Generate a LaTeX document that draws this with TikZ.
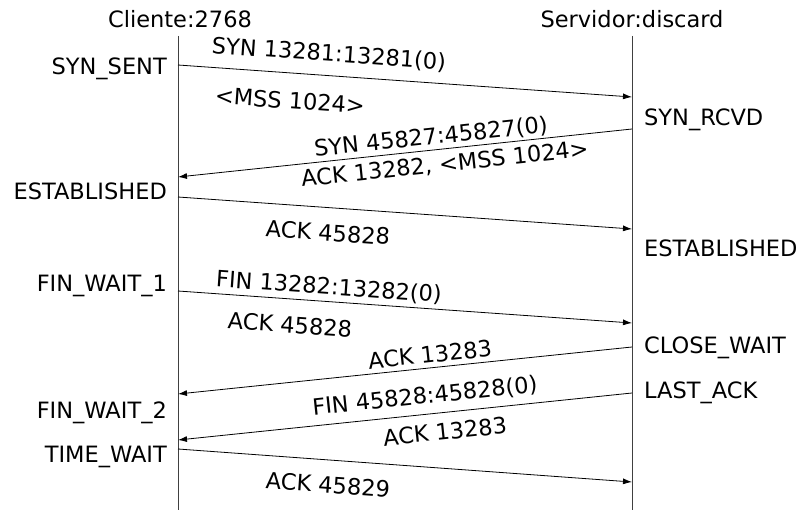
\documentclass[tikz,border=0pt]{standalone}
\usepackage{fontspec}
\setmainfont{DejaVu Sans}
\usetikzlibrary{arrows.meta}
\begin{document}
\begin{tikzpicture}[x=1pt,y=-1pt,
  lbl/.style={font=\fontsize{22.5}{24}\selectfont, inner sep=0pt, yshift=-2.5pt},
  lifeline/.style={draw=black!75, line width=0.9pt},
  msg/.style={draw=black, line width=0.8pt, -{Latex[length=9pt,width=6pt]}},
  stl/.style={lbl, anchor=east},
  str/.style={lbl, anchor=west}]
\useasboundingbox (0,0) rectangle (803,510);
% lifelines
\coordinate (ctop) at (178,36);
\coordinate (cbot) at (178,510);
\coordinate (stop) at (632,36);
\coordinate (sbot) at (632,510);
\draw[lifeline] (ctop) -- (cbot);
\draw[lifeline] (stop) -- (sbot);
\node[lbl] (cl) at (180,17) {Cliente:2768};
\node[lbl] (sv) at (632,17) {Servidor:discard};
% endpoints
\coordinate (c1) at (178,65);  \coordinate (s1) at (632,97);
\coordinate (s2) at (632,129); \coordinate (c2) at (178,177);
\coordinate (c3) at (178,197); \coordinate (s3) at (632,229);
\coordinate (c4) at (178,291); \coordinate (s4) at (632,323);
\coordinate (s5) at (632,347); \coordinate (c5) at (178,394);
\coordinate (s6) at (632,393); \coordinate (c6) at (178,440);
\coordinate (c7) at (178,449); \coordinate (s7) at (632,482);
\draw[msg] (c1) -- (s1);
\draw[msg] (s2) -- (c2);
\draw[msg] (c3) -- (s3);
\draw[msg] (c4) -- (s4);
\draw[msg] (s5) -- (c5);
\draw[msg] (s6) -- (c6);
\draw[msg] (c7) -- (s7);
% states
\node[stl] (st1) at (167,66) {SYN\_SENT};
\node[stl] (st2) at (167,189) {ESTABLISHED};
\node[stl] (st3) at (167,283) {FIN\_WAIT\_1};
\node[stl] (st4) at (167,410) {FIN\_WAIT\_2};
\node[stl] (st5) at (167,454) {TIME\_WAIT};
\node[str] (sr1) at (644,117) {SYN\_RCVD};
\node[str] (sr2) at (644,246) {ESTABLISHED};
\node[str] (sr3) at (644,345) {CLOSE\_WAIT};
\node[str] (sr4) at (644,390) {LAST\_ACK};
% message labels
\node[lbl, rotate=-4] (m1a) at (329,52) {SYN 13281:13281(0)};
\node[lbl, rotate=-4] (m1b) at (290,98) {<MSS 1024>};
\node[lbl, rotate=6] (m2a) at (431,135) {SYN 45827:45827(0)};
\node[lbl, rotate=6] (m2b) at (445,162) {ACK 13282, <MSS 1024>};
\node[lbl, rotate=-4] (m3) at (328,230) {ACK 45828};
\node[lbl, rotate=-4] (m4a) at (329,285) {FIN 13282:13282(0)};
\node[lbl, rotate=-4] (m4b) at (290,322) {ACK 45828};
\node[lbl, rotate=6] (m5) at (430,352) {ACK 13283};
\node[lbl, rotate=6] (m6a) at (425,394) {FIN 45828:45828(0)};
\node[lbl, rotate=6] (m6b) at (445,429) {ACK 13283};
\node[lbl, rotate=-4] (m7) at (328,482) {ACK 45829};
\end{tikzpicture}
\end{document}
